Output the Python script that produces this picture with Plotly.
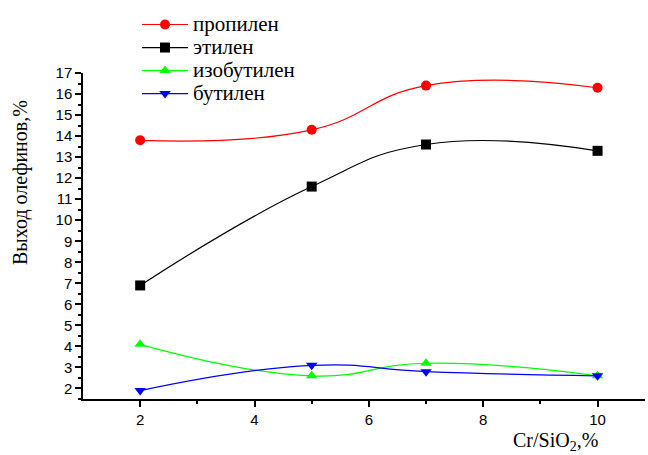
import plotly.graph_objects as go

x_vals = [2, 5, 7, 10]
propylene = [13.8, 14.3, 16.4, 16.3]
ethylene = [6.9, 11.6, 13.6, 13.3]
isobutylene = [4.1, 2.6, 3.2, 2.6]
butylene = [1.9, 3.1, 2.8, 2.6]

names = ["пропилен", "этилен", "изобутилен", "бутилен"]
series = [propylene, ethylene, isobutylene, butylene]
colors = ["#ff0000", "#000000", "#00ff00", "#0000ff"]
symbols = ["circle", "square", "triangle-up", "triangle-down"]

fig = go.Figure()
for n, s, c, sym in zip(names, series, colors, symbols):
    fig.add_trace(go.Scatter(
        x=x_vals, y=s, name='<span style="font-size:21px">' + n + '</span>',
        mode="lines+markers",
        line=dict(color=c, width=1.2, shape="spline", smoothing=1.3),
        marker=dict(color=c, symbol=sym, size=10, line=dict(width=0)),
    ))

pw = 648 - 83 - 3
ph = 455 - 73 - 56


def px2paper(px, py):
    return (px - 83) / pw, (455 - 56 - py) / ph


ylx, yly = px2paper(20, 183)
xtx, xty = px2paper(600, 441)
lgx, lgy = px2paper(137, 8)

fig.update_layout(
    width=648, height=455,
    margin=dict(l=83, r=3, t=73, b=56),
    paper_bgcolor="white", plot_bgcolor="white",
    showlegend=True,
    legend=dict(x=lgx, y=lgy, xanchor="left", yanchor="top",
                font=dict(family="Liberation Serif", size=15.4, color="black"),
                itemwidth=46,
                bgcolor="rgba(0,0,0,0)", tracegroupgap=0),
    xaxis=dict(range=[1, 10.83], tickvals=[2, 4, 6, 8, 10],
               showline=True, linecolor="black", linewidth=1.5,
               ticks="outside", ticklen=6, tickwidth=1.5, tickcolor="black",
               minor=dict(tickvals=[3, 5, 7, 9], ticks="outside", ticklen=3, tickwidth=1.5, tickcolor="black"),
               showgrid=False, zeroline=False,
               tickfont=dict(family="Liberation Sans", size=15, color="black")),
    yaxis=dict(range=[1.5, 17], tickvals=list(range(2, 18)),
               showline=True, linecolor="black", linewidth=1.5,
               ticks="outside", ticklen=6, tickwidth=1.5, tickcolor="black",
               minor=dict(dtick=0.5, ticks="outside", ticklen=3, tickwidth=1.5, tickcolor="black"),
               showgrid=False, zeroline=False,
               tickfont=dict(family="Liberation Sans", size=15, color="black")),
    annotations=[
        dict(text="Выход олефинов,%", textangle=-90, x=ylx, y=yly,
             xref="paper", yref="paper", showarrow=False,
             xanchor="center", yanchor="middle",
             font=dict(family="Liberation Serif", size=20, color="black")),
        dict(text="Cr/SiO<sub>2</sub>,%", x=xtx, y=xty,
             xref="paper", yref="paper", showarrow=False,
             xanchor="right", yanchor="middle",
             font=dict(family="Liberation Serif", size=20, color="black")),
    ],
)

fig.write_html("out.html")
